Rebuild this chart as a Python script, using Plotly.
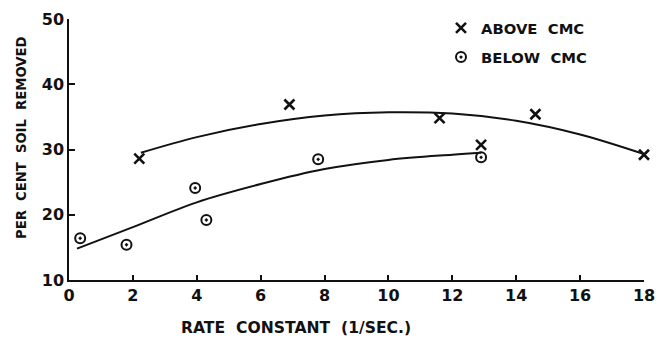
import plotly.graph_objects as go

# Data
above_x = [2.2, 6.9, 11.6, 12.9, 14.6, 18.0]
above_y = [28.6, 36.9, 34.8, 30.7, 35.4, 29.2]

below_x = [0.35, 1.8, 3.95, 4.3, 7.8, 12.9]
below_y = [16.4, 15.4, 24.1, 19.2, 28.5, 28.8]

# Smoothed fit curves
fit_above_x = [2.25, 4, 6, 8, 10, 12, 14, 16, 18]
fit_above_y = [29.5, 31.9, 33.9, 35.2, 35.7, 35.5, 34.4, 32.3, 29.3]

fit_below_x = [0.25, 2, 4, 6, 8, 10, 12, 12.9]
fit_below_y = [14.8, 18.1, 21.9, 24.7, 27.0, 28.4, 29.2, 29.5]

x_ticks = [0, 2, 4, 6, 8, 10, 12, 14, 16, 18]
y_ticks = [10, 20, 30, 40, 50]

FONT = "DejaVu Sans"
BLK = "#111111"

fig = go.Figure()

fig.add_trace(go.Scatter(x=fit_above_x, y=fit_above_y, mode="lines",
                         line=dict(color=BLK, width=2, shape="spline"),
                         showlegend=False, hoverinfo="skip", cliponaxis=False))
fig.add_trace(go.Scatter(x=fit_below_x, y=fit_below_y, mode="lines",
                         line=dict(color=BLK, width=2, shape="spline"),
                         showlegend=False, hoverinfo="skip"))

fig.add_trace(go.Scatter(x=above_x, y=above_y, mode="markers", name="ABOVE\u00a0 CMC",
                         legendgroup="a", cliponaxis=False,
                         marker=dict(symbol="x-thin-open", size=10, color=BLK,
                                     line=dict(color=BLK, width=2.6))))
fig.add_trace(go.Scatter(x=below_x, y=below_y, mode="markers", name="BELOW\u00a0 CMC",
                         legendgroup="b",
                         marker=dict(symbol="circle-open-dot", size=10, color=BLK,
                                     line=dict(color=BLK, width=2))))

W, H = 656, 338
L, R, T, B = 69, 12, 19, 58

fig.update_layout(
    width=W, height=H,
    margin=dict(l=L, r=R, t=T, b=B, autoexpand=False),
    paper_bgcolor="white", plot_bgcolor="white",
    font=dict(family=FONT, color=BLK),
    showlegend=True,
    legend=dict(x=(441 - L) / (W - L - R), y=1.028, xanchor="left", yanchor="top",
                bgcolor="rgba(0,0,0,0)", tracegroupgap=7,
                font=dict(family=FONT, size=14.8, color=BLK, weight="bold")),
    xaxis=dict(range=[0, 18], tickvals=x_ticks, ticks="inside", ticklen=5,
               tickwidth=1.5, tickcolor=BLK, showline=True, linecolor=BLK,
               linewidth=1.5, showgrid=False, zeroline=False, automargin=False,
               ticklabeloverflow="allow",
               tickfont=dict(family=FONT, size=16, color=BLK, weight="bold")),
    yaxis=dict(range=[10, 50], tickvals=y_ticks, ticks="inside", ticklen=6,
               tickwidth=1.5, tickcolor=BLK, showline=True, linecolor=BLK,
               linewidth=1.5, showgrid=False, zeroline=False, automargin=False,
               tickfont=dict(family=FONT, size=16, color=BLK, weight="bold")),
    annotations=[
        dict(text="RATE\u00a0 CONSTANT\u00a0 (1/SEC.)", xref="paper", yref="paper",
             x=(296 - L) / (W - L - R), y=-(328 - (H - B)) / (H - T - B),
             xanchor="center", yanchor="middle", showarrow=False,
             font=dict(family=FONT, size=15.6, color=BLK, weight="bold")),
        dict(text="PER\u00a0 CENT\u00a0 SOIL\u00a0 REMOVED", xref="paper", yref="paper",
             x=-(L - 21) / (W - L - R), y=(H - B - 138) / (H - T - B),
             xanchor="center", yanchor="middle", showarrow=False, textangle=-90,
             font=dict(family=FONT, size=13.2, color=BLK, weight="bold")),
    ],
)

fig.write_html("out.html", config={"displayModeBar": False},
               post_script="document.body.style.margin='0';document.body.style.overflow='hidden';")
